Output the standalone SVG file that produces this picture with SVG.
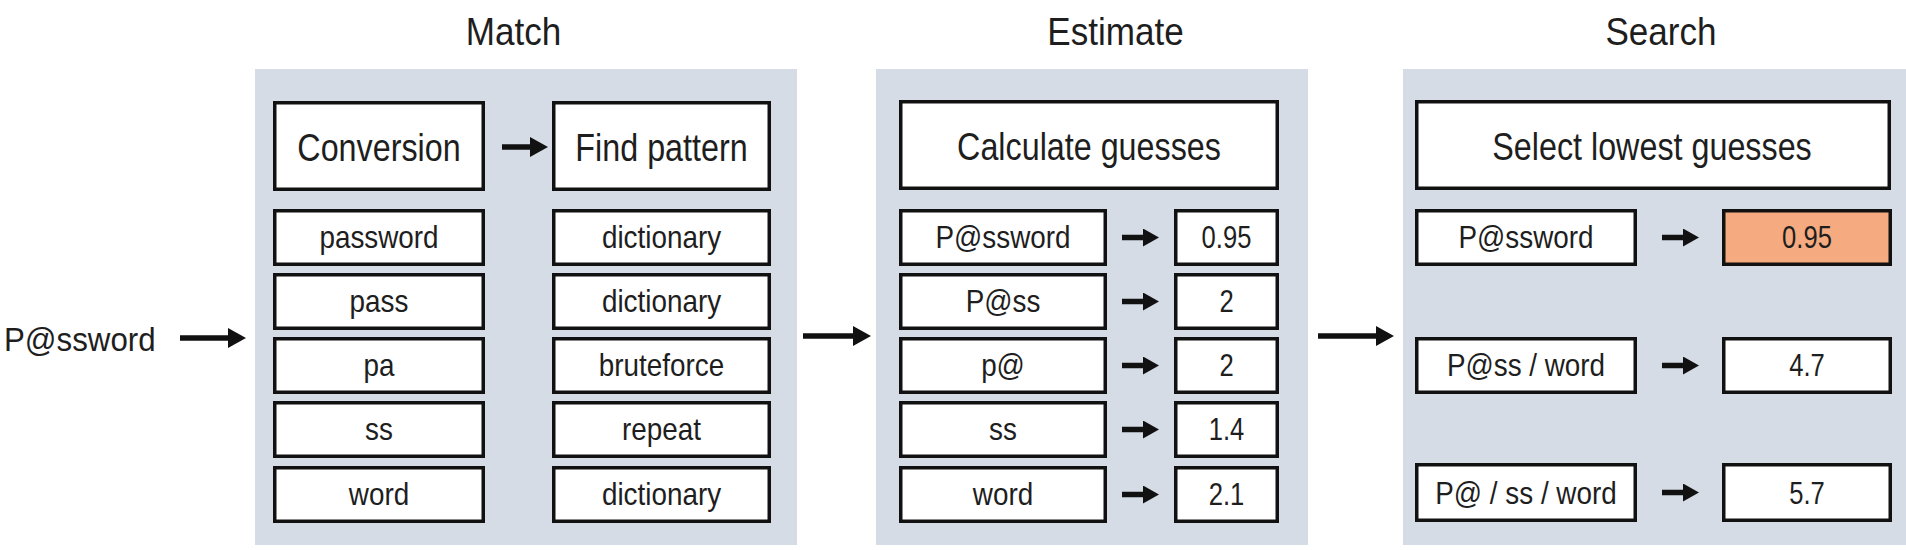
<svg xmlns="http://www.w3.org/2000/svg" width="1906" height="550" viewBox="0 0 1906 550">
<style>
  .panel { fill: #D5DCE6; }
  .box { fill: #FFFFFF; stroke: #111111; stroke-width: 3.5; }
  .hl { fill: #F5AA80; stroke: #111111; stroke-width: 3.5; }
  text { font-family: "Liberation Sans", Arial, sans-serif; fill: #1E1E1E; text-anchor: middle; }
  .title { font-size: 39px; }
  .head { font-size: 38px; }
  .body { font-size: 32px; }
  .num { font-size: 32px; }
  .input { font-size: 34px; text-anchor: start; }
  .conn { stroke: #111111; stroke-width: 5.5; fill: none; }
</style>
<defs>
  <marker id="ah" markerUnits="userSpaceOnUse" markerWidth="18" markerHeight="20" viewBox="0 0 18 20" refX="8" refY="10" orient="auto">
    <path d="M0,0 L18,10 L0,20 z" fill="#111111"/>
  </marker>
  <marker id="ahs" markerUnits="userSpaceOnUse" markerWidth="16" markerHeight="18" viewBox="0 0 16 18" refX="7" refY="9" orient="auto">
    <path d="M0,0 L16,9 L0,18 z" fill="#111111"/>
  </marker>
</defs>

<!-- Titles -->
<g id="titles">
  <text class="title" transform="translate(513.5,45) scale(0.9,1)">Match</text>
  <text class="title" transform="translate(1115.5,45) scale(0.9,1)">Estimate</text>
  <text class="title" transform="translate(1661,45) scale(0.9,1)">Search</text>
</g>

<!-- Input -->
<g id="input">
  <text class="input" transform="translate(4,351) scale(0.92,1)">P@ssword</text>
</g>

<!-- Panels -->
<g id="panel-match"><rect class="panel" x="255" y="69" width="542" height="476"/></g>
<g id="panel-estimate"><rect class="panel" x="876" y="69" width="432" height="476"/></g>
<g id="panel-search"><rect class="panel" x="1403" y="69" width="503" height="476"/></g>

<!-- Match nodes -->
<g id="conversion">
  <rect class="box" x="274.75" y="102.75" width="208.5" height="86.5"/>
  <text class="head" transform="translate(379,161) scale(0.85,1)">Conversion</text>
</g>
<g id="find-pattern">
  <rect class="box" x="553.75" y="102.75" width="215.5" height="86.5"/>
  <text class="head" transform="translate(661.5,161) scale(0.85,1)">Find pattern</text>
</g>

<g id="m-conv-1"><rect class="box" x="274.75" y="210.75" width="208.5" height="53.5"/><text class="body" transform="translate(379,248) scale(0.87,1)">password</text></g>
<g id="m-conv-2"><rect class="box" x="274.75" y="274.75" width="208.5" height="53.5"/><text class="body" transform="translate(379,312) scale(0.87,1)">pass</text></g>
<g id="m-conv-3"><rect class="box" x="274.75" y="338.75" width="208.5" height="53.5"/><text class="body" transform="translate(379,376) scale(0.87,1)">pa</text></g>
<g id="m-conv-4"><rect class="box" x="274.75" y="402.75" width="208.5" height="53.5"/><text class="body" transform="translate(379,440) scale(0.87,1)">ss</text></g>
<g id="m-conv-5"><rect class="box" x="274.75" y="467.75" width="208.5" height="53.5"/><text class="body" transform="translate(379,505) scale(0.87,1)">word</text></g>

<g id="m-pat-1"><rect class="box" x="553.75" y="210.75" width="215.5" height="53.5"/><text class="body" transform="translate(661.5,248) scale(0.87,1)">dictionary</text></g>
<g id="m-pat-2"><rect class="box" x="553.75" y="274.75" width="215.5" height="53.5"/><text class="body" transform="translate(661.5,312) scale(0.87,1)">dictionary</text></g>
<g id="m-pat-3"><rect class="box" x="553.75" y="338.75" width="215.5" height="53.5"/><text class="body" transform="translate(661.5,376) scale(0.87,1)">bruteforce</text></g>
<g id="m-pat-4"><rect class="box" x="553.75" y="402.75" width="215.5" height="53.5"/><text class="body" transform="translate(661.5,440) scale(0.87,1)">repeat</text></g>
<g id="m-pat-5"><rect class="box" x="553.75" y="467.75" width="215.5" height="53.5"/><text class="body" transform="translate(661.5,505) scale(0.87,1)">dictionary</text></g>

<!-- Estimate nodes -->
<g id="calculate">
  <rect class="box" x="900.75" y="101.75" width="376.5" height="86.5"/>
  <text class="head" transform="translate(1089,160) scale(0.85,1)">Calculate guesses</text>
</g>
<g id="e-tok-1"><rect class="box" x="900.75" y="210.75" width="204.5" height="53.5"/><text class="body" transform="translate(1003,248) scale(0.87,1)">P@ssword</text></g>
<g id="e-tok-2"><rect class="box" x="900.75" y="274.75" width="204.5" height="53.5"/><text class="body" transform="translate(1003,312) scale(0.87,1)">P@ss</text></g>
<g id="e-tok-3"><rect class="box" x="900.75" y="338.75" width="204.5" height="53.5"/><text class="body" transform="translate(1003,376) scale(0.87,1)">p@</text></g>
<g id="e-tok-4"><rect class="box" x="900.75" y="402.75" width="204.5" height="53.5"/><text class="body" transform="translate(1003,440) scale(0.87,1)">ss</text></g>
<g id="e-tok-5"><rect class="box" x="900.75" y="467.75" width="204.5" height="53.5"/><text class="body" transform="translate(1003,505) scale(0.87,1)">word</text></g>

<g id="e-val-1"><rect class="box" x="1175.75" y="210.75" width="101.5" height="53.5"/><text class="num" transform="translate(1226.5,248) scale(0.8,1)">0.95</text></g>
<g id="e-val-2"><rect class="box" x="1175.75" y="274.75" width="101.5" height="53.5"/><text class="num" transform="translate(1226.5,312) scale(0.8,1)">2</text></g>
<g id="e-val-3"><rect class="box" x="1175.75" y="338.75" width="101.5" height="53.5"/><text class="num" transform="translate(1226.5,376) scale(0.8,1)">2</text></g>
<g id="e-val-4"><rect class="box" x="1175.75" y="402.75" width="101.5" height="53.5"/><text class="num" transform="translate(1226.5,440) scale(0.8,1)">1.4</text></g>
<g id="e-val-5"><rect class="box" x="1175.75" y="467.75" width="101.5" height="53.5"/><text class="num" transform="translate(1226.5,505) scale(0.8,1)">2.1</text></g>

<!-- Search nodes -->
<g id="select">
  <rect class="box" x="1416.75" y="101.75" width="472.5" height="86.5"/>
  <text class="head" transform="translate(1652,160) scale(0.85,1)">Select lowest guesses</text>
</g>
<g id="s-tok-1"><rect class="box" x="1416.75" y="210.75" width="218.5" height="53.5"/><text class="body" transform="translate(1526,248) scale(0.87,1)">P@ssword</text></g>
<g id="s-tok-2"><rect class="box" x="1416.75" y="338.75" width="218.5" height="53.5"/><text class="body" transform="translate(1526,376) scale(0.87,1)">P@ss / word</text></g>
<g id="s-tok-3"><rect class="box" x="1416.75" y="464.75" width="218.5" height="55.5"/><text class="body" transform="translate(1526,504) scale(0.87,1)">P@ / ss / word</text></g>

<g id="s-val-1"><rect class="hl" x="1723.75" y="210.75" width="166.5" height="53.5"/><text class="num" transform="translate(1807,248) scale(0.8,1)">0.95</text></g>
<g id="s-val-2"><rect class="box" x="1723.75" y="338.75" width="166.5" height="53.5"/><text class="num" transform="translate(1807,376) scale(0.8,1)">4.7</text></g>
<g id="s-val-3"><rect class="box" x="1723.75" y="464.75" width="166.5" height="55.5"/><text class="num" transform="translate(1807,504) scale(0.8,1)">5.7</text></g>

<!-- Connectors -->
<g id="connectors">
  <line class="conn" x1="180" y1="338" x2="236" y2="338" marker-end="url(#ah)"/>
  <line class="conn" x1="803" y1="336" x2="861" y2="336" marker-end="url(#ah)"/>
  <line class="conn" x1="1318" y1="336" x2="1384" y2="336" marker-end="url(#ah)"/>
  <line class="conn" x1="502" y1="147" x2="538" y2="147" marker-end="url(#ah)"/>

  <line class="conn" x1="1122" y1="237.5" x2="1150" y2="237.5" marker-end="url(#ahs)"/>
  <line class="conn" x1="1122" y1="301.5" x2="1150" y2="301.5" marker-end="url(#ahs)"/>
  <line class="conn" x1="1122" y1="365.5" x2="1150" y2="365.5" marker-end="url(#ahs)"/>
  <line class="conn" x1="1122" y1="429.5" x2="1150" y2="429.5" marker-end="url(#ahs)"/>
  <line class="conn" x1="1122" y1="494.5" x2="1150" y2="494.5" marker-end="url(#ahs)"/>

  <line class="conn" x1="1662" y1="237.5" x2="1690" y2="237.5" marker-end="url(#ahs)"/>
  <line class="conn" x1="1662" y1="365.5" x2="1690" y2="365.5" marker-end="url(#ahs)"/>
  <line class="conn" x1="1662" y1="492.5" x2="1690" y2="492.5" marker-end="url(#ahs)"/>
</g>
</svg>
